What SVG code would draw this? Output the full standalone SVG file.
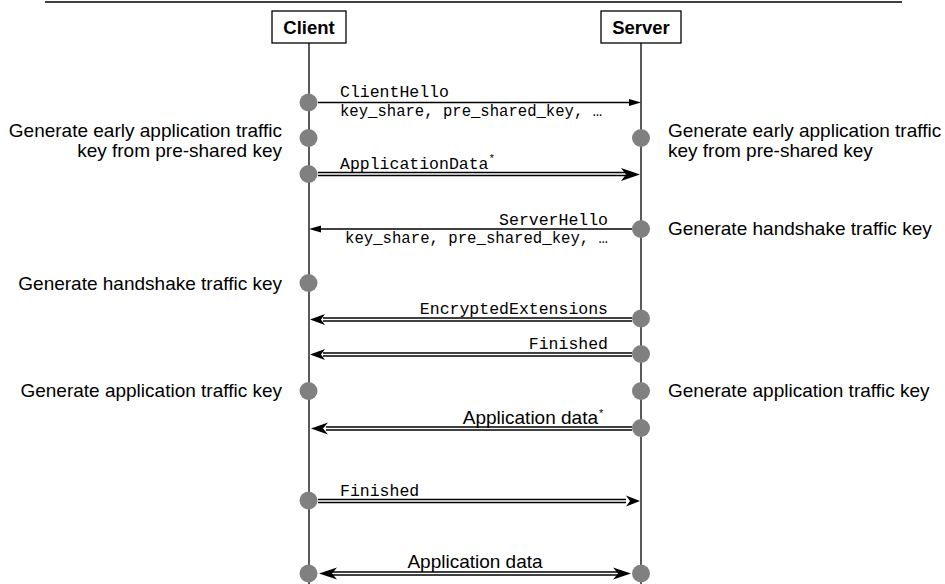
<svg xmlns="http://www.w3.org/2000/svg" width="945" height="584" viewBox="0 0 945 584">
<style>
.sans{font-family:"Liberation Sans",Arial,sans-serif;font-size:19px;fill:#000}
.bold{font-family:"Liberation Sans",Arial,sans-serif;font-size:18.5px;font-weight:bold;fill:#000}
.mono{font-family:"Liberation Mono","DejaVu Sans Mono",monospace;font-size:16.5px;fill:#000}
.sup{font-size:11px}
.life{stroke:#000;stroke-width:1.3;fill:none}
.box{fill:#fff;stroke:#000;stroke-width:1.3}
.dot{fill:#808080}
.single{stroke:#000;stroke-width:1.4;fill:none}
.dbl-out{stroke:#000;stroke-width:4.4;fill:none}
.dbl-in{stroke:#fff;stroke-width:1.6;fill:none}
.head{fill:#000}
</style>
<rect width="945" height="584" fill="#fff"/>
<line x1="45" y1="2" x2="902" y2="2" stroke="#000" stroke-width="1.5"/>

<g id="client">
<line class="life" x1="309" y1="43" x2="309" y2="584"/>
<rect class="box" x="272" y="11" width="74" height="32"/>
<text class="bold" x="309" y="33.5" text-anchor="middle">Client</text>
</g>
<g id="server">
<line class="life" x1="641" y1="43" x2="641" y2="584"/>
<rect class="box" x="601" y="11" width="80" height="32"/>
<text class="bold" x="641" y="33.5" text-anchor="middle">Server</text>
</g>

<g id="connectors">
<!-- ClientHello -->
<line class="single" x1="318" y1="102.5" x2="632" y2="102.5"/>
<polygon class="head" points="641,102.5 629,99 629,106"/>
<!-- ApplicationData* -->
<line class="dbl-out" x1="318" y1="174" x2="626" y2="174"/>
<line class="dbl-in" x1="318" y1="174" x2="628" y2="174"/>
<polygon class="head" points="640,174.5 621,168 626,174.5 621,181"/>
<!-- ServerHello -->
<line class="single" x1="632" y1="229" x2="318" y2="229"/>
<polygon class="head" points="309,229 321,225.5 321,232.5"/>
<!-- EncryptedExtensions -->
<line class="dbl-out" x1="632" y1="319.5" x2="323" y2="319.5"/>
<line class="dbl-in" x1="632" y1="319.5" x2="321" y2="319.5"/>
<polygon class="head" points="310,319.5 325,314 321,319.5 325,325"/>
<!-- Finished server->client -->
<line class="dbl-out" x1="632" y1="354.5" x2="323" y2="354.5"/>
<line class="dbl-in" x1="632" y1="354.5" x2="321" y2="354.5"/>
<polygon class="head" points="310,354.5 325,349 321,354.5 325,360"/>
<!-- Application data* -->
<line class="dbl-out" x1="632" y1="428.5" x2="326" y2="428.5"/>
<line class="dbl-in" x1="632" y1="428.5" x2="324" y2="428.5"/>
<polygon class="head" points="311,428.5 328,422.5 323,428.5 328,434.5"/>
<!-- Finished client->server -->
<line class="dbl-out" x1="318" y1="501" x2="626" y2="501"/>
<line class="dbl-in" x1="318" y1="501" x2="628" y2="501"/>
<polygon class="head" points="640,501 626,495.5 630,501 626,506.5"/>
<!-- Application data both -->
<line class="dbl-out" x1="328" y1="573.5" x2="618" y2="573.5"/>
<line class="dbl-in" x1="326" y1="573.5" x2="620" y2="573.5"/>
<polygon class="head" points="319,573.5 337,567.5 332,573.5 337,579.5"/>
<polygon class="head" points="631,573.5 613,567.5 618,573.5 613,579.5"/>
</g>

<g id="client-events">
<circle class="dot" cx="308.5" cy="102.5" r="9"/>
<circle class="dot" cx="308.5" cy="138" r="9"/>
<circle class="dot" cx="308.5" cy="174" r="9"/>
<circle class="dot" cx="308.5" cy="283" r="9"/>
<circle class="dot" cx="308.5" cy="391" r="9"/>
<circle class="dot" cx="308.5" cy="500.5" r="9"/>
<circle class="dot" cx="308.5" cy="573.5" r="9"/>
</g>
<g id="server-events">
<circle class="dot" cx="641" cy="138" r="9"/>
<circle class="dot" cx="641" cy="229" r="9"/>
<circle class="dot" cx="641" cy="318.5" r="9"/>
<circle class="dot" cx="641" cy="354" r="9"/>
<circle class="dot" cx="641" cy="391" r="9"/>
<circle class="dot" cx="641" cy="428" r="9"/>
<circle class="dot" cx="641" cy="573.5" r="9"/>
</g>

<g id="message-labels">
<text class="mono" x="340" y="97">ClientHello</text>
<text class="mono" x="340" y="116" textLength="262" lengthAdjust="spacingAndGlyphs">key_share, pre_shared_key, …</text>
<text class="mono" x="340" y="169">ApplicationData<tspan class="sup" dy="-7">*</tspan></text>
<text class="mono" x="608" y="225" text-anchor="end">ServerHello</text>
<text class="mono" x="608" y="243" text-anchor="end" textLength="263" lengthAdjust="spacingAndGlyphs">key_share, pre_shared_key, …</text>
<text class="mono" x="608" y="314" text-anchor="end">EncryptedExtensions</text>
<text class="mono" x="608" y="349" text-anchor="end">Finished</text>
<text class="sans" x="598" y="424" text-anchor="end">Application data</text>
<text class="sans sup" x="599" y="417">*</text>
<text class="mono" x="340" y="496">Finished</text>
<text class="sans" x="475" y="568" text-anchor="middle">Application data</text>
</g>

<g id="client-notes">
<text class="sans" x="282" y="137" text-anchor="end">Generate early application traffic</text>
<text class="sans" x="282" y="157" text-anchor="end">key from pre-shared key</text>
<text class="sans" x="282" y="289.5" text-anchor="end">Generate handshake traffic key</text>
<text class="sans" x="282" y="397" text-anchor="end">Generate application traffic key</text>
</g>
<g id="server-notes">
<text class="sans" x="668" y="137">Generate early application traffic</text>
<text class="sans" x="668" y="157">key from pre-shared key</text>
<text class="sans" x="668" y="234.5">Generate handshake traffic key</text>
<text class="sans" x="668" y="397">Generate application traffic key</text>
</g>
</svg>
